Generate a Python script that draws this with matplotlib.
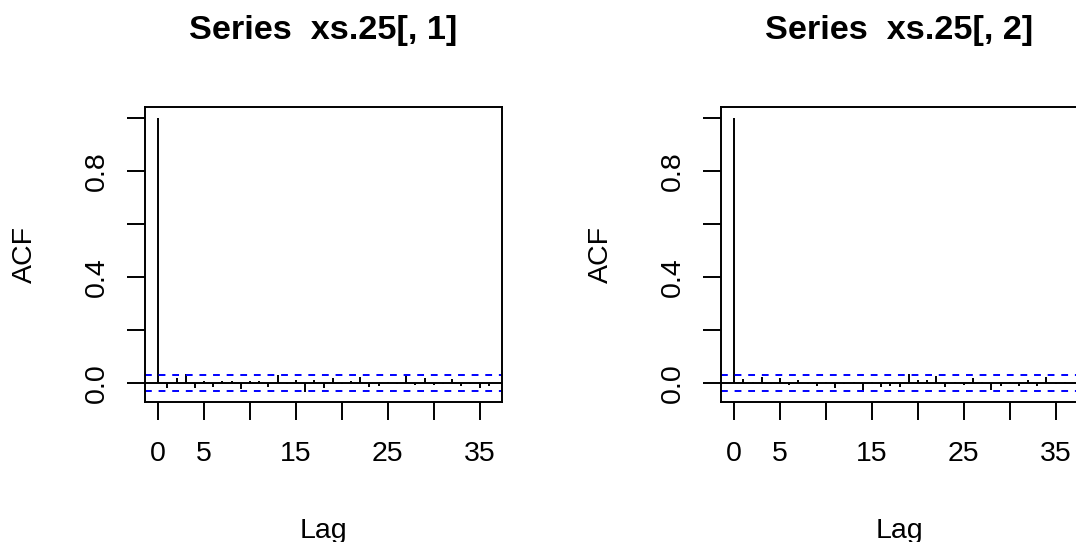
import numpy as np
import matplotlib
matplotlib.use('Agg')
import matplotlib.pyplot as plt

plt.rcParams['font.family'] = ['Liberation Sans', 'DejaVu Sans']

# ACF values, lag 0..36
lags = np.arange(0, 37)
acf_1 = [1.0, -0.018, 0.018, 0.033, -0.021, 0.008, -0.017, 0.007, 0.007, -0.022,
         0.007, 0.007, -0.016, 0.028, -0.003, 0.009, -0.033, 0.012, -0.019, 0.019,
         -0.003, 0.006, 0.021, -0.014, -0.013, 0.002, -0.004, 0.029, -0.008, 0.019,
         -0.009, -0.004, 0.015, -0.012, -0.005, -0.021, -0.012]
acf_2 = [1.0, 0.013, 0.002, 0.024, -0.003, 0.019, -0.009, 0.011, -0.004, -0.010,
         0.002, -0.019, -0.004, 0.004, -0.036, 0.002, -0.014, -0.011, -0.016, 0.034,
         0.011, 0.011, 0.025, -0.014, 0.003, -0.009, 0.018, 0.002, -0.027, -0.013,
         0.003, -0.013, 0.011, -0.011, 0.021, -0.003, 0.004]
ci = 0.031
titles = ['Series  xs.25[, 1]', 'Series  xs.25[, 2]']

W, H = 1076, 542
fig = plt.figure(figsize=(W / 100, H / 100), dpi=100)

boxes = [(145, 107, 502, 402), (721, 107, 1078, 402)]
lw = 1.4
fs = 20.5

for (x0, y0, x1, y1), acf, title in zip(boxes, [acf_1, acf_2], titles):
    ax = fig.add_axes([x0 / W, 1 - y1 / H, (x1 - x0) / W, (y1 - y0) / H])
    ax.vlines(lags, 0, acf, color='black', linewidth=lw)
    ax.axhline(0, color='black', linewidth=lw)
    for h in (ci, -ci):
        ax.axhline(h, color='#0000FF', linewidth=lw, linestyle=(0, (3.5, 3.5)))
    lo = -ci
    rng = 1.0 - lo
    ax.set_ylim(lo - 0.04 * rng, 1.0 + 0.04 * rng)
    ax.set_xlim(-0.04 * 36, 36 * 1.04)

    ax.set_xticks([0, 5, 10, 15, 20, 25, 30, 35])
    ax.set_xticklabels(['0', '5', '', '15', '', '25', '', '35'])
    ax.set_yticks([0, 0.2, 0.4, 0.6, 0.8, 1.0])
    ax.set_yticklabels(['0.0', '', '0.4', '', '0.8', ''], rotation=90, va='center')
    ax.tick_params(axis='both', length=13, width=lw, labelsize=fs)
    ax.tick_params(axis='x', pad=15)
    ax.tick_params(axis='y', pad=12)
    for s in ax.spines.values():
        s.set_linewidth(lw)

    ax.set_xlabel('Lag', fontsize=fs, va='baseline')
    ax.xaxis.set_label_coords(0.5, (y1 - 538) / (y1 - y0))
    ax.set_ylabel('ACF', fontsize=fs, va='center')
    ax.yaxis.set_label_coords(-120 / (x1 - x0), 0.5)

    fig.text((x0 + x1) / 2 / W, 1 - 38.5 / H, title, fontsize=24.7,
             fontweight='bold', ha='center', va='baseline')

fig.savefig('out.png', dpi=100)
